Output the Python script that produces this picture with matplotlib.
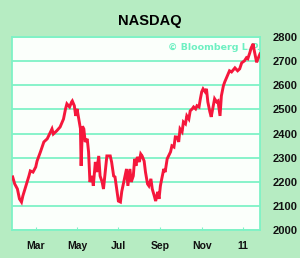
import matplotlib
matplotlib.use("Agg")
import matplotlib.pyplot as plt
import pandas as pd

title = "NASDAQ"
source = "\u00a9 Bloomberg L.P."

dates = [
    "2010-01-26", "2010-01-29", "2010-02-02", "2010-02-05", "2010-02-08", "2010-02-10",
    "2010-02-14", "2010-02-19", "2010-02-21", "2010-02-25", "2010-03-01", "2010-03-03",
    "2010-03-08", "2010-03-13", "2010-03-18", "2010-03-23", "2010-03-25", "2010-03-27",
    "2010-04-01", "2010-04-06", "2010-04-11", "2010-04-14", "2010-04-16", "2010-04-20",
    "2010-04-23", "2010-04-24", "2010-04-27", "2010-04-29", "2010-05-01", "2010-05-03",
    "2010-05-06", "2010-05-07", "2010-05-09", "2010-05-11", "2010-05-13", "2010-05-16",
    "2010-05-18", "2010-05-20", "2010-05-23", "2010-05-25", "2010-05-28", "2010-05-30",
    "2010-06-02", "2010-06-04", "2010-06-07", "2010-06-09", "2010-06-12", "2010-06-14",
    "2010-06-19", "2010-06-21", "2010-06-24", "2010-06-26", "2010-06-29", "2010-07-01",
    "2010-07-04", "2010-07-06", "2010-07-10", "2010-07-13", "2010-07-15", "2010-07-18",
    "2010-07-20", "2010-07-23", "2010-07-25", "2010-07-27", "2010-07-29", "2010-08-01",
    "2010-08-03", "2010-08-05", "2010-08-08", "2010-08-10", "2010-08-13", "2010-08-15",
    "2010-08-18", "2010-08-20", "2010-08-23", "2010-08-25", "2010-08-28", "2010-08-30",
    "2010-09-01", "2010-09-03", "2010-09-06", "2010-09-08", "2010-09-11", "2010-09-13",
    "2010-09-16", "2010-09-18", "2010-09-21", "2010-09-23", "2010-09-26", "2010-09-28",
    "2010-09-30", "2010-10-03", "2010-10-05", "2010-10-08", "2010-10-10", "2010-10-13",
    "2010-10-15", "2010-10-18", "2010-10-20", "2010-10-23", "2010-10-25", "2010-10-28",
    "2010-10-30", "2010-11-01", "2010-11-03", "2010-11-06", "2010-11-08", "2010-11-10",
    "2010-11-13", "2010-11-15", "2010-11-18", "2010-11-20", "2010-11-23", "2010-11-25",
    "2010-11-28", "2010-11-30", "2010-12-03", "2010-12-05", "2010-12-09", "2010-12-12",
    "2010-12-15", "2010-12-20", "2010-12-24", "2010-12-27", "2010-12-30", "2011-01-03",
    "2011-01-06", "2011-01-08", "2011-01-11", "2011-01-13", "2011-01-16", "2011-01-17",
    "2011-01-19", "2011-01-21", "2011-01-23", "2011-01-26",
]
values = [
    2220, 2191, 2170, 2129, 2116, 2141,
    2178, 2224, 2245, 2240, 2261, 2286,
    2324, 2365, 2378, 2407, 2419, 2398,
    2411, 2427, 2460, 2502, 2523, 2510,
    2531, 2535, 2515, 2473, 2502, 2469,
    2420, 2266, 2430, 2419, 2365, 2378,
    2324, 2199, 2224, 2183, 2282, 2240,
    2307, 2224, 2199, 2170, 2253, 2307,
    2307, 2282, 2224, 2220, 2158, 2120,
    2116, 2160, 2212, 2253, 2183, 2253,
    2199, 2224, 2295, 2266, 2303, 2282,
    2315, 2307, 2286, 2240, 2191, 2183,
    2212, 2170, 2141, 2120, 2158, 2129,
    2183, 2212, 2253, 2240, 2295, 2307,
    2324, 2349, 2344, 2386, 2385, 2365,
    2419, 2407, 2448, 2440, 2473, 2460,
    2494, 2502, 2510, 2502, 2515, 2510,
    2544, 2573, 2585, 2573, 2585, 2531,
    2490, 2469, 2515, 2544, 2531, 2535,
    2473, 2556, 2598, 2614, 2640, 2660,
    2655, 2672, 2660, 2668, 2693, 2701,
    2714, 2710, 2735, 2755, 2772, 2751,
    2722, 2695, 2710, 2730,
]

y_ticks = [2000, 2100, 2200, 2300, 2400, 2500, 2600, 2700, 2800]
x_tick_dates = ["2010-03-01", "2010-05-01", "2010-07-01", "2010-09-01", "2010-11-01", "2011-01-01"]
x_tick_labels = ["Mar", "May", "Jul", "Sep", "Nov", "11"]

bg = "#b6ecc2"
grid_c = "#7ef2c6"
line_c = "#f5173c"
font = "Liberation Sans"

fig = plt.figure(figsize=(3.0, 2.58), dpi=100, facecolor=bg)
ax = fig.add_axes([12 / 300, 28 / 258, 248 / 300, 193 / 258])
ax.set_facecolor("#fbfffb")

x = pd.to_datetime(dates)
ax.plot(x, values, color=line_c, lw=2.1, solid_joinstyle="miter", zorder=3)

ax.set_xlim(pd.Timestamp("2010-01-25"), pd.Timestamp("2011-01-26"))
ax.set_ylim(2000, 2800)
ax.set_yticks(y_ticks)
ax.yaxis.tick_right()
ax.grid(axis="y", color=grid_c, lw=1.3, zorder=1)
ax.set_xticks(pd.to_datetime(x_tick_dates))
ax.set_xticklabels(x_tick_labels)
ax.tick_params(axis="y", length=0, pad=9, labelsize=8, labelcolor="#111111")
ax.tick_params(axis="x", length=2, direction="in", color=grid_c, pad=8, labelsize=7.5, labelcolor="#111111")
for lab in ax.get_yticklabels() + ax.get_xticklabels():
    lab.set_family(font)
    lab.set_fontweight("bold")
for s in ax.spines.values():
    s.set_color(grid_c)
    s.set_linewidth(1.3)

ax.text(1.0, 0.945, source, transform=ax.transAxes, ha="right", va="center",
        color="#6ef0c2", fontsize=6.8, fontweight="bold", family="DejaVu Sans", zorder=2)
fig.text(0.5, 0.918, title, ha="center", va="center", fontsize=10.5, fontweight="bold",
         family=font, color="black")

fig.savefig("out.png", dpi=100, facecolor=bg)
